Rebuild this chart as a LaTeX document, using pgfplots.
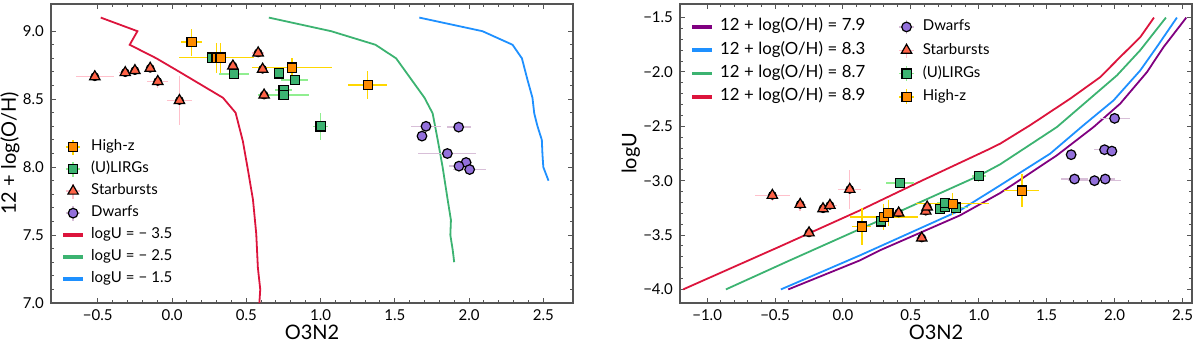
\documentclass[border=0pt]{standalone}
\usepackage{fontspec}
\setmainfont{Lato}
\usepackage{pgfplots}
\usepackage{pgfplotstable}
\pgfplotsset{compat=1.18}

\definecolor{sbfill}{HTML}{FF6347}
\definecolor{sberr}{HTML}{FFC0CB}
\definecolor{lgfill}{HTML}{3CB371}
\definecolor{lgerr}{HTML}{90EE90}
\definecolor{hzfill}{HTML}{FF8C00}
\definecolor{hzerr}{HTML}{FFD700}
\definecolor{dwfill}{HTML}{9370DB}
\definecolor{dwerr}{HTML}{D8BFD8}
\definecolor{cred}{HTML}{DC143C}
\definecolor{cgreen}{HTML}{3CB371}
\definecolor{cblue}{HTML}{1E90FF}
\definecolor{cpurple}{HTML}{800080}
\definecolor{frame}{HTML}{555555}

\newcommand\msp{\hspace{0.27em}}
\newcommand\oh[1]{{\fontsize{8.4}{9}\selectfont 12\msp+\msp log(O/H)\msp=\msp#1}}

\pgfplotsset{
  panel/.style={
    scale only axis,
    axis line style={draw=frame, line width=0.6pt},
    tick style={draw=frame, line width=0.5pt},
    major tick length=2.6pt, minor tick length=1.5pt,
    tick align=inside, xtick pos=both, ytick pos=both,
    minor x tick num=4, minor y tick num=4,
    tick label style={font=\fontsize{7.5}{9}\selectfont},
    label style={font=\fontsize{8.8}{11}\selectfont},
    legend cell align=left,
    legend style={draw=none, fill=none, font=\fontsize{7.5}{9}\selectfont, inner sep=0pt,
      nodes={inner sep=0.6pt, text height=5.4pt, text depth=1.6pt},
      /tikz/every odd column/.append style={column sep=3.5pt}},
    every axis x label/.style={at={(axis description cs:0.5,-0.072)}, anchor=north, inner sep=0pt},
  },
  lineleg/.style={legend image code/.code={\fill[#1] (0pt,-0.5pt) rectangle (9pt,0.5pt);}},
  errleg/.style={legend image code/.code={
      \draw[#1, line width=0.7pt] (0.8pt,0pt) -- (8.2pt,0pt) (4.5pt,-3.7pt) -- (4.5pt,3.7pt);
      \draw[##1] plot coordinates {(4.5pt,0pt)};}},
  model/.style={draw=#1, line width=0.9pt, no markers, lineleg=#1},
  errs/.style={forget plot, only marks, mark=none,
      error bars/.cd, x dir=both, x explicit, y dir=both, y explicit,
      error mark=none, error bar style={#1, line width=0.7pt}},
  sb/.style={only marks, mark=triangle*, mark size=3pt,
      mark options={draw=black, fill=sbfill, line width=0.6pt}, errleg=sberr},
  lg/.style={only marks, mark=square*, mark size=2.3pt,
      mark options={draw=black, fill=lgfill, line width=0.6pt}, errleg=lgerr},
  hz/.style={only marks, mark=square*, mark size=2.3pt,
      mark options={draw=black, fill=hzfill, line width=0.6pt}, errleg=hzerr},
  dw/.style={only marks, mark=*, mark size=2.4pt,
      mark options={draw=black, fill=dwfill, line width=0.6pt}, errleg=dwerr},
}

% left panel: O3N2 vs 12+log(O/H)
\pgfplotstableread{
x y ex ey
-0.52 8.665 0.13 0.02
-0.315 8.695 0.04 0.02
-0.25 8.71 0.03 0.02
-0.147 8.727 0.03 0.02
-0.096 8.63 0.07 0.05
0.05 8.49 0.085 0.18
0.41 8.744 0.03 0.02
0.58 8.84 0.04 0.02
0.61 8.72 0.02 0.02
0.62 8.53 0.03 0.02
}\sbL
\pgfplotstableread{
x y ex ey
0.269 8.805 0.03 0.03
0.417 8.685 0.10 0.03
0.72 8.69 0.03 0.03
0.751 8.567 0.06 0.03
0.751 8.53 0.17 0.02
0.827 8.64 0.09 0.02
1.0 8.30 0.05 0.10
}\lgL
\pgfplotstableread{
x y ex ey
0.132 8.919 0.07 0.10
0.30 8.805 0.25 0.11
0.327 8.805 0.03 0.11
0.807 8.732 0.27 0.07
1.318 8.604 0.13 0.10
}\hzL
\pgfplotstableread{
x y ex ey
1.71 8.30 0.10 0
1.683 8.228 0 0
1.93 8.294 0.08 0
1.854 8.10 0.195 0
1.98 8.034 0.04 0
1.932 8.007 0.07 0
2.004 7.982 0.11 0
}\dwL

% right panel: O3N2 vs logU
\pgfplotstableread{
x y ex ey
-0.52 -3.135 0.13 0.05
-0.315 -3.218 0.04 0.06
-0.25 -3.48 0.03 0.03
-0.147 -3.258 0.03 0.03
-0.096 -3.227 0.05 0.03
0.05 -3.08 0.085 0.18
0.41 -3.297 0.03 0.03
0.58 -3.527 0.04 0.03
0.61 -3.28 0.02 0.02
0.62 -3.242 0.02 0.02
}\sbR
\pgfplotstableread{
x y ex ey
0.28 -3.374 0.03 0.03
0.42 -3.022 0.10 0.03
0.715 -3.26 0.03 0.03
0.75 -3.24 0.06 0.03
0.752 -3.203 0.06 0.03
0.833 -3.248 0.09 0.03
1.0 -2.958 0.05 0.05
}\lgR
\pgfplotstableread{
x y ex ey
0.14 -3.423 0.07 0.17
0.30 -3.335 0.25 0.12
0.334 -3.30 0.03 0.12
0.808 -3.212 0.27 0.10
1.317 -3.092 0.13 0.15
}\hzR
\pgfplotstableread{
x y ex ey
1.705 -2.985 0.10 0
1.68 -2.761 0 0
1.926 -2.715 0.08 0
1.852 -3.0 0.195 0
1.98 -2.728 0.04 0
1.931 -2.985 0.07 0
2.0 -2.427 0.11 0
}\dwR

\begin{document}
\begin{tikzpicture}
\useasboundingbox (0pt,0pt) rectangle (600pt,171pt);
\begin{axis}[panel,
    at={(25.5pt,19.5pt)}, anchor=south west,
    width=261pt, height=149.5pt,
    xmin=-0.815, xmax=2.7, ymin=7.0, ymax=9.2,
    xtick={-0.5,0,0.5,1,1.5,2,2.5},
    xticklabels={−0.5,0.0,0.5,1.0,1.5,2.0,2.5},
    ytick={7,7.5,8,8.5,9},
    yticklabels={7.0,7.5,8.0,8.5,9.0},
    xlabel={O3N2}, ylabel={12\msp+\msp log(O/H)},
    every axis y label/.style={at={(axis description cs:-0.0785,0.5)}, rotate=90, anchor=center, inner sep=0pt},
    reverse legend,
    legend style={at={(axis description cs:0.0226,0.55)}, anchor=north west,
      /tikz/row sep=2.8pt},
]
\addplot[model=cblue] coordinates {(1.665,9.10) (2.09,9.0) (2.293,8.90) (2.356,8.80) (2.394,8.64) (2.427,8.51) (2.439,8.395) (2.461,8.30) (2.49,8.20) (2.494,8.10) (2.50,8.00) (2.535,7.90)};
\addlegendentry{logU\msp=\msp−\msp1.5}
\addplot[model=cgreen] coordinates {(0.652,9.10) (1.071,9.0) (1.37,8.90) (1.509,8.80) (1.70,8.51) (1.755,8.395) (1.789,8.20) (1.822,8.0) (1.856,7.76) (1.878,7.61) (1.874,7.50) (1.89,7.39) (1.90,7.30)};
\addlegendentry{logU\msp=\msp−\msp2.5}
\addplot[model=cred] coordinates {(-0.48,9.10) (-0.233,9.0) (-0.285,8.90) (-0.105,8.80) (0.051,8.70) (0.343,8.51) (0.428,8.40) (0.477,8.19) (0.511,7.98) (0.545,7.76) (0.567,7.51) (0.578,7.26) (0.594,7.10) (0.585,6.95)};
\addlegendentry{logU\msp=\msp−\msp3.5}
\addplot[errs=dwerr] table[x=x,y=y,x error=ex,y error=ey]{\dwL};
\addplot[dw] table[x=x,y=y]{\dwL};
\addlegendentry{Dwarfs}
\addplot[errs=sberr] table[x=x,y=y,x error=ex,y error=ey]{\sbL};
\addplot[sb] table[x=x,y=y]{\sbL};
\addlegendentry{Starbursts}
\addplot[errs=lgerr] table[x=x,y=y,x error=ex,y error=ey]{\lgL};
\addplot[lg] table[x=x,y=y]{\lgL};
\addlegendentry{(U)LIRGs}
\addplot[errs=hzerr] table[x=x,y=y,x error=ex,y error=ey]{\hzL};
\addplot[hz] table[x=x,y=y]{\hzL};
\addlegendentry{High-z}
\end{axis}

\begin{axis}[panel,
    at={(340pt,19.5pt)}, anchor=south west,
    width=256pt, height=149.5pt,
    xmin=-1.2, xmax=2.57, ymin=-4.125, ymax=-1.375,
    xtick={-1,-0.5,0,0.5,1,1.5,2,2.5},
    xticklabels={−1.0,−0.5,0.0,0.5,1.0,1.5,2.0,2.5},
    ytick={-4,-3.5,-3,-2.5,-2,-1.5},
    yticklabels={−4.0,−3.5,−3.0,−2.5,−2.0,−1.5},
    xlabel={O3N2}, ylabel={logU},
    every axis y label/.style={at={(axis description cs:-0.096,0.5)}, rotate=90, anchor=center, inner sep=0pt},
    legend columns=4, transpose legend,
    legend style={at={(axis description cs:0.023,0.952)}, anchor=north west,
      /tikz/row sep=3.45pt,
      /tikz/every even column/.append style={column sep=16pt}},
]
\addplot[model=cpurple] coordinates {(-0.403,-4.0) (0.125,-3.733) (0.273,-3.64) (0.862,-3.319) (1.157,-3.114) (1.575,-2.767) (1.845,-2.507) (2.041,-2.292) (2.238,-2.002) (2.36,-1.772) (2.528,-1.50)};
\addlegendentry{\oh{7.9}}
\addplot[model=cblue] coordinates {(-0.457,-4.0) (0.125,-3.687) (0.273,-3.604) (0.862,-3.273) (1.157,-3.043) (1.525,-2.752) (1.771,-2.49) (1.992,-2.262) (2.189,-1.986) (2.31,-1.772) (2.459,-1.50)};
\addlegendentry{\oh{8.3}}
\addplot[model=cgreen] coordinates {(-0.862,-4.0) (-0.4,-3.738) (0.125,-3.445) (0.273,-3.364) (0.5,-3.236) (1.0,-2.955) (1.157,-2.85) (1.575,-2.507) (2.017,-2.032) (2.189,-1.80) (2.378,-1.50)};
\addlegendentry{\oh{8.7}}
\addplot[model=cred] coordinates {(-1.177,-4.0) (-0.464,-3.605) (0.125,-3.273) (0.58,-3.0) (1.059,-2.72) (1.157,-2.66) (1.378,-2.49) (1.673,-2.246) (1.894,-2.048) (2.04,-1.864) (2.189,-1.68) (2.29,-1.50)};
\addlegendentry{\oh{8.9}}
\addplot[errs=dwerr] table[x=x,y=y,x error=ex,y error=ey]{\dwR};
\addplot[dw] table[x=x,y=y]{\dwR};
\addlegendentry{Dwarfs}
\addplot[errs=sberr] table[x=x,y=y,x error=ex,y error=ey]{\sbR};
\addplot[sb] table[x=x,y=y]{\sbR};
\addlegendentry{Starbursts}
\addplot[errs=lgerr] table[x=x,y=y,x error=ex,y error=ey]{\lgR};
\addplot[lg] table[x=x,y=y]{\lgR};
\addlegendentry{(U)LIRGs}
\addplot[errs=hzerr] table[x=x,y=y,x error=ex,y error=ey]{\hzR};
\addplot[hz] table[x=x,y=y]{\hzR};
\addlegendentry{High-z}
\end{axis}
\end{tikzpicture}
\end{document}
